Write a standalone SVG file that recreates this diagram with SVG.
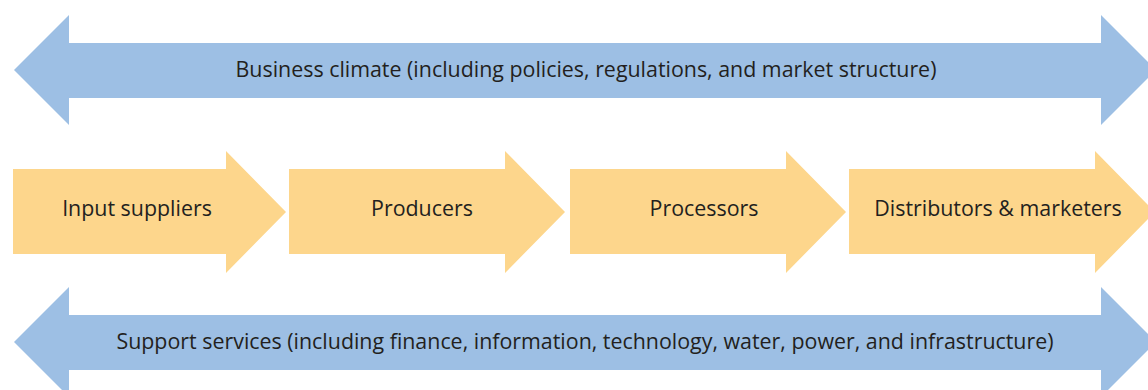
<svg xmlns="http://www.w3.org/2000/svg" width="1148" height="390" viewBox="0 0 1148 390">
<style>
.blue{fill:#9dbfe4}
.orange{fill:#fdd68c}
text{font-family:"Open Sans","Noto Sans",sans-serif;font-size:21.4px;fill:#231f20;text-anchor:middle;dominant-baseline:central}
</style>
<rect width="1148" height="390" fill="#ffffff"/>
<g id="business-climate">
<polygon class="blue" points="14,70 69,15 69,43 1101,43 1101,15 1156,70 1101,125 1101,98 69,98 69,125"/>
<text x="586" y="68.5">Business climate (including policies, regulations, and market structure)</text>
</g>
<g id="input-suppliers">
<polygon class="orange" points="13,169 226,169 226,151 286,212 226,273 226,254 13,254"/>
<text x="137" y="207.5">Input suppliers</text>
</g>
<g id="producers">
<polygon class="orange" points="289,169 505,169 505,151 565,212 505,273 505,254 289,254"/>
<text x="422" y="207.5">Producers</text>
</g>
<g id="processors">
<polygon class="orange" points="570,169 786,169 786,151 846,212 786,273 786,254 570,254"/>
<text x="704" y="207.5">Processors</text>
</g>
<g id="distributors">
<polygon class="orange" points="849,169 1095,169 1095,151 1155,212 1095,273 1095,254 849,254"/>
<text x="998" y="207.5">Distributors &amp; marketers</text>
</g>
<g id="support-services">
<polygon class="blue" points="14,342 69,287 69,315 1101,315 1101,287 1156,342 1101,397 1101,370 69,370 69,397"/>
<text x="585" y="340.5">Support services (including finance, information, technology, water, power, and infrastructure)</text>
</g>
<g id="connectors"></g>
</svg>
